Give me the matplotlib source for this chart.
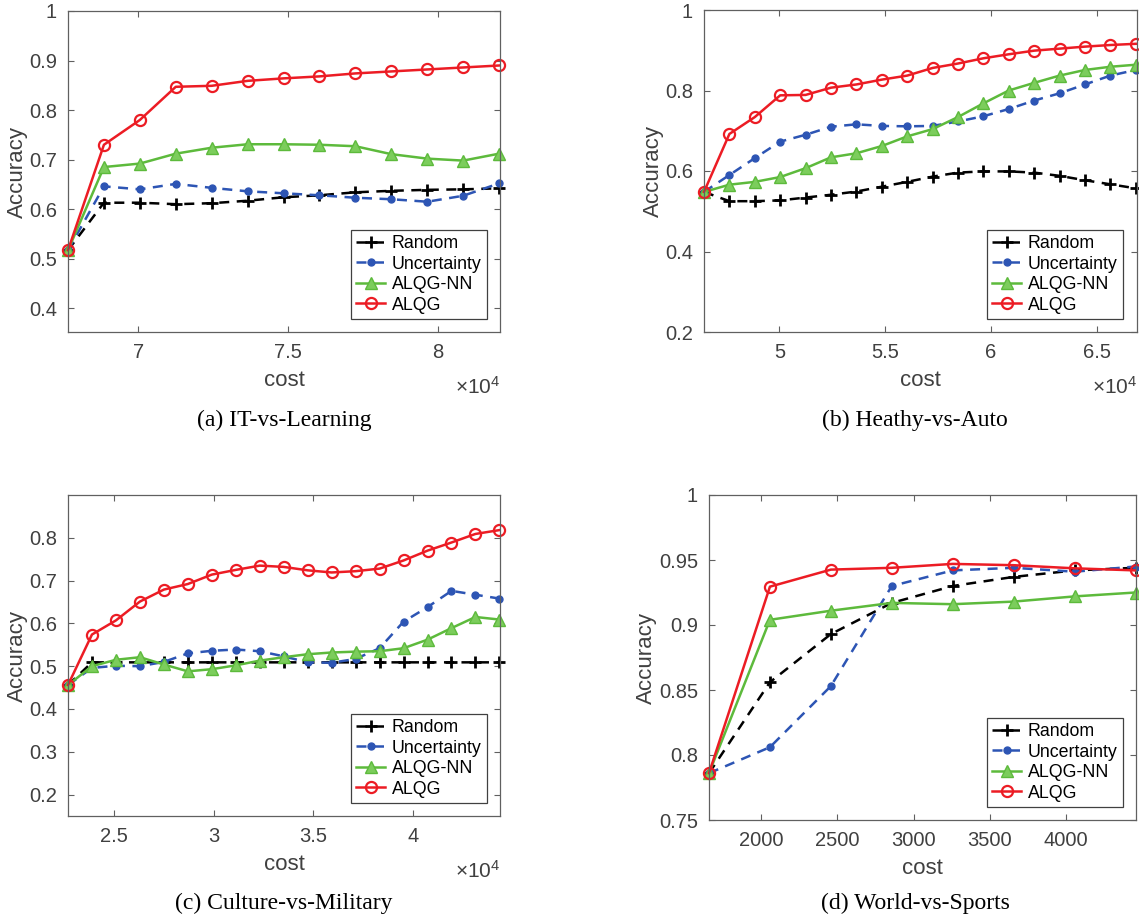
import numpy as np
import matplotlib
matplotlib.use('Agg')
import matplotlib.pyplot as plt
from matplotlib.ticker import FuncFormatter

plt.rcParams['font.family'] = ['Liberation Sans', 'DejaVu Sans']
plt.rcParams['mathtext.fontset'] = 'custom'
plt.rcParams['mathtext.rm'] = 'Liberation Sans'

names = ['Random', 'Uncertainty', 'ALQG-NN', 'ALQG']

# (a) IT-vs-Learning
cost_a = [67650, 68850, 70050, 71250, 72450, 73650, 74850, 76050, 77250, 78450, 79650, 80850, 82050]
rand_a = [0.517, 0.613, 0.613, 0.610, 0.612, 0.617, 0.624, 0.628, 0.634, 0.637, 0.639, 0.640, 0.642]
unc_a = [0.517, 0.646, 0.640, 0.651, 0.643, 0.636, 0.632, 0.628, 0.623, 0.620, 0.615, 0.627, 0.652]
nn_a = [0.517, 0.685, 0.692, 0.712, 0.724, 0.731, 0.731, 0.730, 0.727, 0.711, 0.702, 0.698, 0.712]
alqg_a = [0.517, 0.730, 0.780, 0.847, 0.849, 0.859, 0.864, 0.868, 0.874, 0.878, 0.882, 0.886, 0.890]

# (b) Heathy-vs-Auto
cost_b = [46440, 47640, 48840, 50040, 51240, 52440, 53640, 54840, 56040, 57240,
          58440, 59640, 60840, 62040, 63240, 64440, 65640, 66840]
rand_b = [0.548, 0.525, 0.525, 0.527, 0.534, 0.541, 0.549, 0.561, 0.573, 0.586,
          0.596, 0.599, 0.599, 0.596, 0.588, 0.577, 0.567, 0.557]
unc_b = [0.548, 0.590, 0.632, 0.673, 0.690, 0.710, 0.716, 0.712, 0.711, 0.712,
         0.723, 0.736, 0.754, 0.775, 0.793, 0.815, 0.837, 0.851]
nn_b = [0.548, 0.566, 0.573, 0.585, 0.607, 0.634, 0.644, 0.662, 0.686, 0.704,
        0.734, 0.768, 0.800, 0.819, 0.837, 0.851, 0.859, 0.864]
alqg_b = [0.548, 0.692, 0.734, 0.788, 0.789, 0.807, 0.815, 0.827, 0.837, 0.856,
          0.867, 0.880, 0.890, 0.899, 0.904, 0.909, 0.913, 0.916]

# (c) Culture-vs-Military
cost_c = [22710, 23910, 25110, 26310, 27510, 28710, 29910, 31110, 32310, 33510,
          34710, 35910, 37110, 38310, 39510, 40710, 41910, 43110, 44310]
rand_c = [0.456, 0.509, 0.509, 0.509, 0.509, 0.509, 0.509, 0.509, 0.509, 0.509,
          0.509, 0.509, 0.509, 0.509, 0.509, 0.509, 0.509, 0.509, 0.509]
unc_c = [0.456, 0.496, 0.501, 0.500, 0.510, 0.530, 0.536, 0.539, 0.535, 0.523,
         0.509, 0.508, 0.517, 0.542, 0.604, 0.638, 0.676, 0.667, 0.658]
nn_c = [0.456, 0.500, 0.515, 0.521, 0.504, 0.488, 0.493, 0.502, 0.513, 0.521,
        0.528, 0.532, 0.534, 0.535, 0.542, 0.562, 0.589, 0.615, 0.609]
alqg_c = [0.456, 0.574, 0.607, 0.651, 0.679, 0.692, 0.714, 0.725, 0.735, 0.732,
          0.724, 0.719, 0.722, 0.728, 0.747, 0.770, 0.789, 0.809, 0.818]

# (d) World-vs-Sports
cost_d = [1657, 2057, 2457, 2857, 3257, 3657, 4057, 4457]
rand_d = [0.786, 0.856, 0.893, 0.917, 0.930, 0.937, 0.942, 0.944]
unc_d = [0.786, 0.806, 0.853, 0.930, 0.942, 0.944, 0.941, 0.945]
nn_d = [0.786, 0.904, 0.911, 0.917, 0.916, 0.918, 0.922, 0.925]
alqg_d = [0.786, 0.9295, 0.9426, 0.944, 0.947, 0.946, 0.9436, 0.942]

W, H = 1139, 919
fig = plt.figure(figsize=(W / 100, H / 100), dpi=100)


def rect(l, r, t, b):
    return [l / W, 1 - b / H, (r - l) / W, (b - t) / H]


def panel(box, x, ys, xlim, ylim, yticks, xticks, sci, caption, cap_xy, leg_box):
    ax = fig.add_axes(rect(*box))
    styles = [
        dict(color='k', ls='--', marker='+', ms=8, mew=2, lw=1.8, dashes=(4, 3)),
        dict(color='#2d55b4', ls='--', marker='o', ms=5, mfc='#2d55b4', lw=1.8, dashes=(4, 3)),
        dict(color='#5dba3c', ls='-', marker='^', ms=8, mfc='#7ccd5c', mec='#5dba3c', lw=1.8),
        dict(color='#ec1c24', ls='-', marker='o', ms=8, mfc='none', mew=1.6, lw=1.8),
    ]
    for y, name, st in zip(ys, names, styles):
        ax.plot(x, y, label=name, clip_on=False, **st)
    ax.set_xlim(*xlim)
    ax.set_ylim(*ylim)
    ax.set_yticks(yticks)
    ax.set_xticks(xticks)
    ax.yaxis.set_major_formatter(FuncFormatter(lambda v, p: '%g' % round(v, 3)))
    if sci:
        ax.xaxis.set_major_formatter(FuncFormatter(lambda v, p: '%g' % round(v / 1e4, 3)))
        ax.text(1.0, -0.17, r'$\times\mathregular{10^4}$', transform=ax.transAxes,
                ha='right', va='center', fontsize=15, color='#404040')
    else:
        ax.xaxis.set_major_formatter(FuncFormatter(lambda v, p: '%d' % v))
    ax.tick_params(direction='in', top=True, right=True, length=4, width=0.8,
                   labelsize=14.5, labelcolor='#404040', color='#606060', pad=8)
    for s in ax.spines.values():
        s.set_color('#606060')
        s.set_linewidth(0.9)
    ax.set_xlabel('cost', fontsize=16, color='#404040', labelpad=6)
    ax.set_ylabel('Accuracy', fontsize=16, color='#404040', labelpad=1)
    l, r, t, b = leg_box
    leg = ax.legend(loc='lower right', bbox_to_anchor=(r / W, 1 - b / H),
                    bbox_transform=fig.transFigure, borderaxespad=0, fontsize=12.8,
                    handlelength=1.6, handletextpad=0.4, labelspacing=0.2,
                    borderpad=0.3, fancybox=False, framealpha=1)
    leg.get_frame().set_edgecolor('#404040')
    leg.get_frame().set_linewidth(0.9)
    fig.text(cap_xy[0] / W, 1 - cap_xy[1] / H, caption, ha='center', va='center',
             fontsize=17, family='Liberation Serif')
    return ax


panel((68, 500, 11, 332), cost_a, [rand_a, unc_a, nn_a, alqg_a],
      (67650, 82080), (0.352, 1.0), [0.4, 0.5, 0.6, 0.7, 0.8, 0.9, 1.0],
      [70000, 75000, 80000], True, '(a) IT-vs-Learning', (284, 420), (355, 487, 222, 319))

panel((704, 1137, 10, 332), cost_b, [rand_b, unc_b, nn_b, alqg_b],
      (46440, 66900), (0.2, 1.0), [0.2, 0.4, 0.6, 0.8, 1.0],
      [50000, 55000, 60000, 65000], True, '(b) Heathy-vs-Auto', (915, 420), (991, 1123, 222, 319))

panel((68, 500, 495, 816), cost_c, [rand_c, unc_c, nn_c, alqg_c],
      (22710, 44340), (0.15, 0.9), [0.2, 0.3, 0.4, 0.5, 0.6, 0.7, 0.8],
      [25000, 30000, 35000, 40000], True, '(c) Culture-vs-Military', (284, 903), (355, 487, 706, 803))

panel((709, 1136, 495, 820), cost_d, [rand_d, unc_d, nn_d, alqg_d],
      (1657, 4460), (0.75, 1.0), [0.75, 0.8, 0.85, 0.9, 0.95, 1.0],
      [2000, 2500, 3000, 3500, 4000], False, '(d) World-vs-Sports', (915, 903), (991, 1123, 710, 807))

fig.savefig('out.png', dpi=100)
